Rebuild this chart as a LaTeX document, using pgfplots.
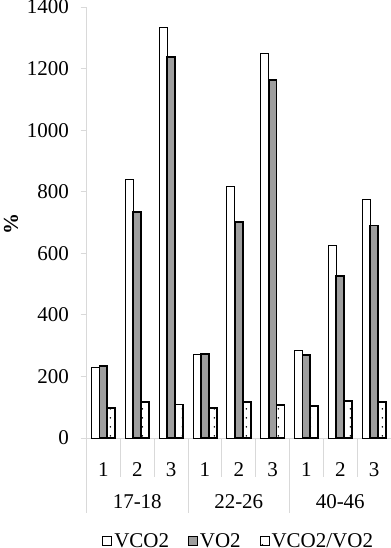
\documentclass[border=0pt]{standalone}
\usepackage{pgfplots}
\pgfplotsset{compat=1.18}
\usepackage{fontspec}
\setmainfont{Liberation Serif}
\usetikzlibrary{patterns}
\pgfdeclarepatternformonly{sparsedots}{\pgfqpoint{0bp}{0bp}}{\pgfqpoint{8.4583bp}{9bp}}{\pgfqpoint{8.4583bp}{9bp}}{\pgfpathcircle{\pgfqpoint{1.44bp}{4.5bp}}{0.85bp}\pgfusepath{fill}}
\pgfplotsset{boxlegend/.style={legend image code/.code={\draw[##1,line width=0.8bp] (0bp,-4.5bp) rectangle (9bp,4.5bp);}}}
\begin{document}
\begin{tikzpicture}[font=\fontsize{21bp}{25bp}\selectfont]
\path[use as bounding box] (0,0) rectangle (391bp,548bp);
\node[rotate=90, font=\fontsize{21bp}{25bp}\selectfont\bfseries] at (11bp,324bp) {\%};
\begin{axis}[
  at={(86.5bp,110bp)}, anchor=south west,
  scale only axis, width=304.5bp, height=431bp,
  ymin=0, ymax=1400, ytick={0,200,...,1400},
  xmin=-0.5, xmax=8.5,
  xtick={0,...,8}, xticklabels={1,2,3,1,2,3,1,2,3},
  /pgf/number format/assume math mode=true,
  /pgf/number format/1000 sep={},
  ybar=0pt, bar width=7.9bp,
  axis lines*=left,
  axis line style={draw=black!15, line width=0.8bp},
  ytick style={draw=black!15, line width=0.8bp},
  tick align=outside, major tick length=6bp,
  xtick style={draw=none},
  xticklabel style={anchor=center, yshift=-26bp},
  yticklabel style={anchor=east, xshift=-8bp},
  clip=false,
  legend style={at={(axis description cs:0.5,0)}, anchor=center, yshift=-103bp,
    draw=none, fill=none, inner sep=0pt, legend columns=-1,
    /tikz/every even column/.append style={column sep=17bp}},
  legend cell align=left,
]
\addplot[fill=white, draw=black, line width=0.9bp, boxlegend]
  coordinates {(0,230) (1,840) (2,1332) (3,270) (4,818) (5,1250) (6,285) (7,626) (8,775)};
\addplot[fill=black!38, draw=black, line width=1.8bp, boxlegend]
  coordinates {(0,235) (1,735) (2,1238) (3,272) (4,702) (5,1164) (6,270) (7,527) (8,690)};
\addplot[pattern=sparsedots, draw=black, line width=1.8bp, boxlegend]
  coordinates {(0,98) (1,116) (2,109) (3,98) (4,116) (5,106) (6,105) (7,119) (8,116)};
\legend{VCO2,VO2,VCO2/VO2}
\draw[black!15, line width=0.8bp] (axis cs:0.5,0) -- ([yshift=-39bp]axis cs:0.5,0);
\draw[black!15, line width=0.8bp] (axis cs:1.5,0) -- ([yshift=-39bp]axis cs:1.5,0);
\draw[black!15, line width=0.8bp] (axis cs:3.5,0) -- ([yshift=-39bp]axis cs:3.5,0);
\draw[black!15, line width=0.8bp] (axis cs:4.5,0) -- ([yshift=-39bp]axis cs:4.5,0);
\draw[black!15, line width=0.8bp] (axis cs:6.5,0) -- ([yshift=-39bp]axis cs:6.5,0);
\draw[black!15, line width=0.8bp] (axis cs:7.5,0) -- ([yshift=-39bp]axis cs:7.5,0);
\draw[black!15, line width=0.8bp] (axis cs:-0.5,0) -- ([yshift=-75bp]axis cs:-0.5,0);
\draw[black!15, line width=0.8bp] (axis cs:2.5,0) -- ([yshift=-75bp]axis cs:2.5,0);
\draw[black!15, line width=0.8bp] (axis cs:5.5,0) -- ([yshift=-75bp]axis cs:5.5,0);
\draw[black!15, line width=0.8bp] (axis cs:8.5,0) -- ([yshift=-75bp]axis cs:8.5,0);
\node at (axis cs:1,0) [yshift=-63.5bp] {17-18};
\node at (axis cs:4,0) [yshift=-63.5bp] {22-26};
\node at (axis cs:7,0) [yshift=-63.5bp] {40-46};
\end{axis}
\end{tikzpicture}
\end{document}
